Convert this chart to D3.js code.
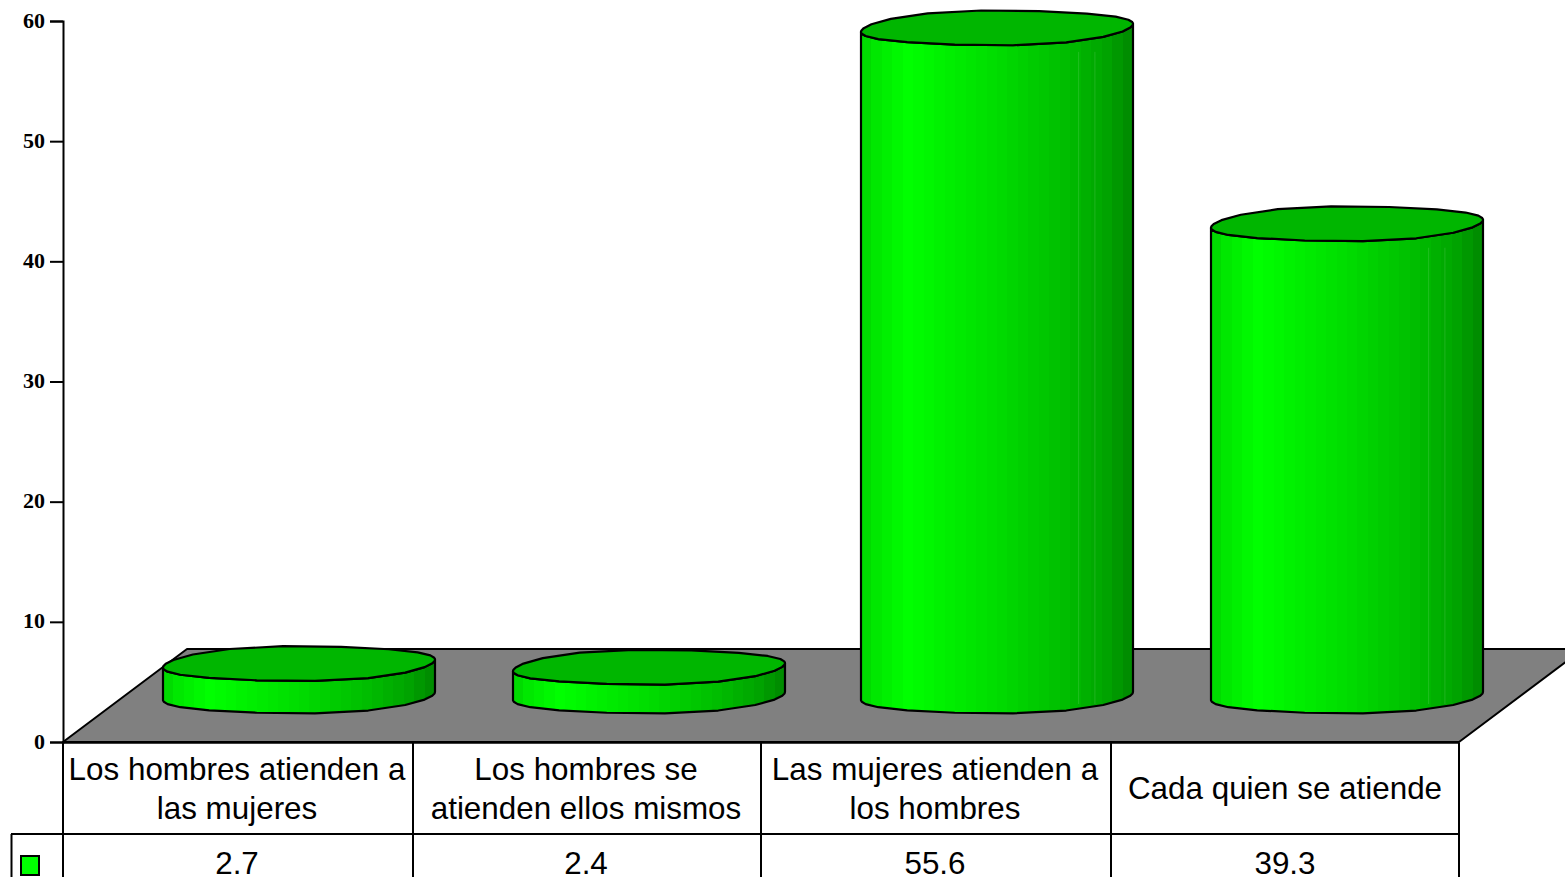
<!DOCTYPE html>
<html><head><meta charset="utf-8">
<script src="https://cdn.jsdelivr.net/npm/d3@7/dist/d3.min.js"></script>
<style>html,body{margin:0;padding:0;background:#fff;overflow:hidden}svg{display:block}</style>
</head><body><svg id="c" width="1565" height="877"></svg>
<script>
const categories = [["Los hombres atienden a","las mujeres"],["Los hombres se","atienden ellos mismos"],["Las mujeres atienden a","los hombres"],["Cada quien se atiende"]];
const values = [2.7,2.4,55.6,39.3];
const valueLabels = ["2.7","2.4","55.6","39.3"];
const ticks = [0,10,20,30,40,50,60];

const svg = d3.select("#c");
const y = d3.scaleLinear().domain([0,60]).range([742,21]);
const x = d3.scaleBand().domain(d3.range(4)).range([63,1459]);
const colX = i => i===4 ? 1459 : x(i) + (i%2 ? 1 : 0);
const depthX = 124, depthY = 93, baseLift = 46, rx = 136, ry = 17.5, tilt = 4;
const cxOf = i => x(i) + x.bandwidth()/2 + 62 + (i%2 ? 0.5 : -0.5);

// banded shading
const defs = svg.append("defs");
const grad = defs.append("linearGradient").attr("id","cyl").attr("x1",0).attr("x2",1).attr("y1",0).attr("y2",0);
const shade = d3.scaleLinear().domain([0,0.05,0.17,0.5,0.75,0.9,1])
  .range(["#00d400","#00e600","#00ff00","#00dc00","#00bd00","#00a400","#008800"]);
const bands = 26;
d3.range(bands).forEach(k=>{
  const c = shade((k+0.5)/bands);
  grad.append("stop").attr("offset",k/bands).attr("stop-color",c);
  grad.append("stop").attr("offset",(k+1)/bands).attr("stop-color",c);
});

// floor
const line = d3.line();
svg.append("path").attr("d",line([[63,742],[63+depthX,742-depthY],[1459+depthX,742-depthY],[1459,742]])+"Z")
  .attr("fill","#808080").attr("stroke","#000").attr("stroke-width",2).attr("stroke-linejoin","round");

// cylinders
const half = 13, warp = -0.4, phase = 0.1;
const angles = d3.range(half+1).map(k=>{
  const u = k/half;
  return Math.PI*u + warp*Math.sin(2*Math.PI*u) + phase*Math.sin(Math.PI*u);
});
const pt = (cx,cy,t)=>[cx+rx*Math.cos(t), cy+ry*Math.sin(t)-tilt*Math.pow(Math.cos(t),3)];
values.forEach((v,i)=>{
  const cx = cxOf(i), yb = y(0)-baseLift, yt = y(v)-baseLift;
  const front = angles.map(t=>pt(cx,yb,t));
  const frontTop = angles.map(t=>pt(cx,yt,t));
  const body = frontTop.slice().reverse().concat(front);
  svg.append("path").attr("d",line(body)+"Z").attr("fill","url(#cyl)").attr("stroke","#000").attr("stroke-width",2.2).attr("stroke-linejoin","round");
  [0.8,0.86].forEach(f=>{
    if (yb-yt>100) svg.append("line").attr("x1",cx-rx+2*rx*f).attr("x2",cx-rx+2*rx*f)
      .attr("y1",yt+24).attr("y2",yb+8).attr("stroke","#fff").attr("stroke-opacity",0.12).attr("stroke-width",1);
  });
  const top = angles.slice(0,-1).concat(angles.slice(0,-1).map(t=>t+Math.PI)).map(t=>pt(cx,yt,t));
  svg.append("path").attr("d",line(top)+"Z").attr("fill","#00b600").attr("stroke","#000").attr("stroke-width",2.2).attr("stroke-linejoin","round");
});

// table grid
const tableTop=y(0)+0.5, rowY=834, bottom=877;
svg.append("line").attr("x1",63).attr("x2",1459).attr("y1",tableTop).attr("y2",tableTop).attr("stroke","#000").attr("stroke-width",2.5);
svg.append("line").attr("x1",11).attr("x2",1459).attr("y1",rowY).attr("y2",rowY).attr("stroke","#000").attr("stroke-width",2);
svg.append("line").attr("x1",11.5).attr("x2",11.5).attr("y1",rowY).attr("y2",bottom).attr("stroke","#000").attr("stroke-width",2);
d3.range(5).forEach(i=>{
  const xx = colX(i);
  svg.append("line").attr("x1",xx).attr("x2",xx).attr("y1",tableTop).attr("y2",bottom).attr("stroke","#000").attr("stroke-width",2);
});
// legend swatch
svg.append("rect").attr("x",21).attr("y",856).attr("width",18).attr("height",19).attr("fill","#00ff00").attr("stroke","#000").attr("stroke-width",2);

// axis
const ax = d3.axisLeft(y).tickValues(ticks).tickSize(13).tickPadding(5).tickFormat(d3.format("d"));
const g = svg.append("g").attr("transform","translate(63,0)").call(ax);
g.select(".domain").attr("stroke","#000").attr("stroke-width",2);
g.selectAll(".tick line").attr("stroke","#000").attr("stroke-width",2);
g.selectAll(".tick text").attr("font-family","'Liberation Serif',serif").attr("font-weight","bold").attr("font-size",22).attr("fill","#000").attr("y",-1).attr("dy","0.32em");

// table text
const font="'Liberation Sans',Arial,sans-serif", fs=31.4;
categories.forEach((lines,i)=>{
  const cx=(colX(i)+colX(i+1))/2 - (i<3 ? 1 : 0);
  const base = lines.length===2 ? [779.5,819] : [799];
  lines.forEach((t,j)=>svg.append("text").attr("x",cx).attr("y",base[j]).attr("text-anchor","middle")
     .attr("font-family",font).attr("font-size",fs).attr("fill","#000").text(t));
  svg.append("text").attr("x",cx).attr("y",873.5).attr("text-anchor","middle")
     .attr("font-family",font).attr("font-size",fs).attr("fill","#000").text(valueLabels[i]);
});
</script></body></html>
